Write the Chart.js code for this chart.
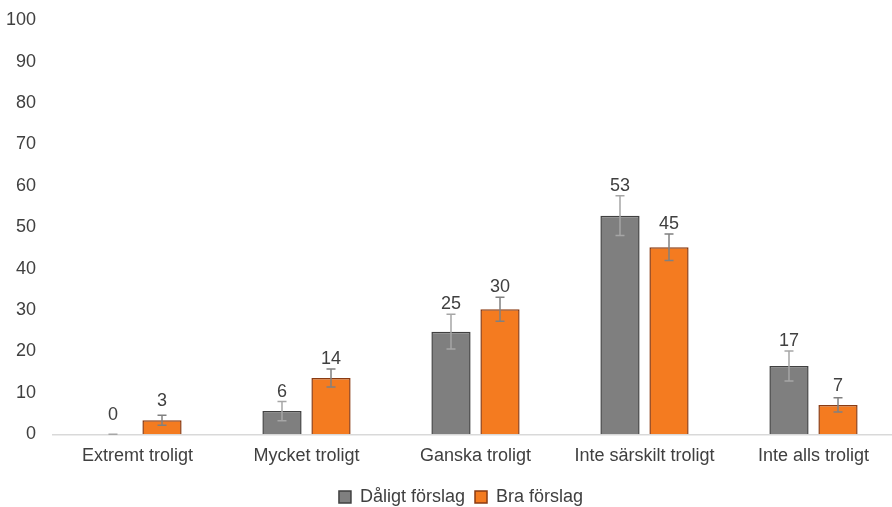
<!DOCTYPE html>
<html>
<head>
<meta charset="utf-8">
<script src="https://cdn.jsdelivr.net/npm/chart.js@4/dist/chart.umd.min.js"></script>
<style>
  html, body { margin: 0; padding: 0; background: #ffffff; overflow: hidden; }
  #wrap { width: 892px; height: 507px; overflow: hidden; position: relative; }
  canvas { display: block; }
</style>
</head>
<body>
<div id="wrap"><canvas id="c" width="900" height="516"></canvas></div>
<script>
// ---- data ----
const categories = ['Extremt troligt', 'Mycket troligt', 'Ganska troligt', 'Inte särskilt troligt', 'Inte alls troligt'];
const seriesNames = ['Dåligt förslag', 'Bra förslag'];
const daligtValues = [0, 5.6, 24.8, 52.8, 16.5];
const braValues = [3.4, 13.6, 30.2, 45.2, 7.1];
const daligtErrors = [0, 2.3, 4.2, 4.8, 3.6];
const braErrors = [1.2, 2.2, 2.9, 3.2, 1.7];
const daligtLabels = ['0', '6', '25', '53', '17'];
const braLabels = ['3', '14', '30', '45', '7'];
const yTicks = [0, 10, 20, 30, 40, 50, 60, 70, 80, 90, 100];

const FONT = "'Liberation Sans', Arial, sans-serif";
const TEXT = '#404040';
const FS = 18;

const errorBarPlugin = {
  id: 'errorBars',
  afterLayout(chart) {
    if (chart.legend) {
      chart.legend.left += 12;
      chart.legend.right += 12;
    }
  },
  afterDatasetsDraw(chart) {
    const ctx = chart.ctx;
    const y = chart.scales.y;
    chart.data.datasets.forEach((ds, di) => {
      const meta = chart.getDatasetMeta(di);
      meta.data.forEach((bar, i) => {
        const v = ds.data[i], e = ds.errors[i];
        const top = y.getPixelForValue(v + e);
        const bot = y.getPixelForValue(Math.max(0, v - e));
        ctx.save();
        ctx.strokeStyle = ds.errorColor;
        ctx.lineWidth = 1.5;
        ctx.beginPath();
        ctx.moveTo(bar.x, top); ctx.lineTo(bar.x, bot);
        ctx.moveTo(bar.x - 4.5, top); ctx.lineTo(bar.x + 4.5, top);
        ctx.moveTo(bar.x - 4.5, bot); ctx.lineTo(bar.x + 4.5, bot);
        ctx.stroke();
        // data label
        const barTop = y.getPixelForValue(v);
        const ly = Math.min(barTop - 14, top - 5);
        ctx.fillStyle = TEXT;
        ctx.font = FS + 'px ' + FONT;
        ctx.textAlign = 'center';
        ctx.textBaseline = 'alphabetic';
        ctx.fillText(ds.valueLabels[i], bar.x, ly);
        ctx.restore();
      });
    });
  }
};

new Chart(document.getElementById('c'), {
  type: 'bar',
  data: {
    labels: categories,
    datasets: [
      {
        label: seriesNames[0],
        data: daligtValues,
        errors: daligtErrors,
        valueLabels: daligtLabels,
        errorColor: '#a6a6a6',
        backgroundColor: '#7f7f7f',
        borderColor: '#404040',
        borderWidth: 1.5,
        categoryPercentage: 0.58,
        barPercentage: 0.8
      },
      {
        label: seriesNames[1],
        data: braValues,
        errors: braErrors,
        valueLabels: braLabels,
        errorColor: '#808080',
        backgroundColor: '#f47b20',
        borderColor: '#8a3b12',
        borderWidth: 1.5,
        categoryPercentage: 0.58,
        barPercentage: 0.8
      }
    ]
  },
  options: {
    responsive: false,
    animation: false,
    layout: { padding: { left: 0, right: 2, top: 20.3, bottom: 0 } },
    plugins: {
      tooltip: { enabled: false },
      legend: {
        position: 'bottom',
        labels: {
          font: { size: FS, family: FONT },
          color: TEXT,
          boxWidth: 12,
          boxHeight: 12,
          padding: 10
        }
      }
    },
    scales: {
      x: {
        grid: { display: false, drawTicks: false },
        border: { display: true, color: '#d9d9d9', width: 1.5 },
        ticks: { font: { size: FS, family: FONT }, color: TEXT, padding: 11, maxRotation: 0 },
        afterFit(scale) { scale.height = 43.7; }
      },
      y: {
        min: 0,
        max: 100,
        grid: { display: false, drawTicks: false },
        border: { display: false },
        afterBuildTicks(scale) { scale.ticks = yTicks.map(v => ({ value: v })); },
        ticks: { font: { size: FS, family: FONT }, color: TEXT, padding: 17 },
        afterFit(scale) { scale.width = 53; scale.paddingTop = 10; scale.paddingBottom = 10; }
      }
    }
  },
  plugins: [errorBarPlugin]
});
</script>
</body>
</html>
